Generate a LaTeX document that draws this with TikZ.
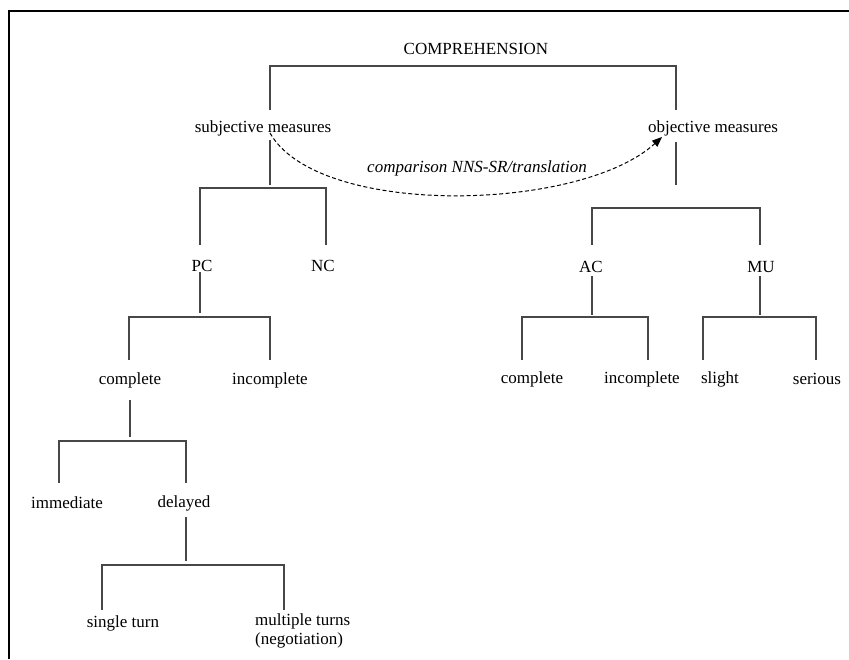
\documentclass[tikz,border=0pt]{standalone}
\usepackage{fontspec}
\setmainfont{Liberation Serif}
\usetikzlibrary{arrows.meta}
\begin{document}
\begin{tikzpicture}[x=1pt,y=-1pt,
  lbl/.style={inner sep=0pt,font=\fontsize{17}{19}\selectfont},
  tree/.style={draw=black!72,line width=1.2pt},
  frame/.style={draw=black,line width=2pt},
  cmp/.style={draw=black,line width=1pt,dash pattern=on 4pt off 2.5pt,-{Triangle[length=10pt,width=8pt]}}]
\useasboundingbox (0,0) rectangle (849,659);
\draw[frame] (9,659) -- (9,10.5) -- (849,10.5);
% labels
\node[lbl] (comp) at (476,49) {COMPREHENSION};
\node[lbl] (sub) at (263,128) {subjective measures};
\node[lbl] (obj) at (713,128) {objective measures};
\node[lbl] (pc) at (202,266) {PC};
\node[lbl] (nc) at (323,266) {NC};
\node[lbl] (ac) at (591,267) {AC};
\node[lbl] (mu) at (761,267) {MU};
\node[lbl] (comp1) at (130,380) {complete};
\node[lbl] (inc1) at (270,380) {incomplete};
\node[lbl] (comp2) at (532,379) {complete};
\node[lbl] (inc2) at (642,379) {incomplete};
\node[lbl] (sl) at (720,379) {slight};
\node[lbl] (ser) at (817,379) {serious};
\node[lbl] (imm) at (67,503) {immediate};
\node[lbl] (del) at (184,503) {delayed};
\node[lbl] (st) at (123,623) {single turn};
\node[lbl,align=left,anchor=west] (mt) at (255,631) {multiple turns\\(negotiation)};
% tree lines
\draw[tree] (270,110) -- (270,66) -- (676,66) -- (676,110);
\draw[tree] (270,140) -- (270,185);
\draw[tree] (200,245) -- (200,188) -- (326,188) -- (326,245);
\draw[tree] (676,142) -- (676,185);
\draw[tree] (592,245) -- (592,208) -- (760,208) -- (760,245);
\draw[tree] (200,272) -- (200,313);
\draw[tree] (129,360) -- (129,317) -- (270,317) -- (270,360);
\draw[tree] (592,276) -- (592,315);
\draw[tree] (522,360) -- (522,317) -- (648,317) -- (648,360);
\draw[tree] (760,276) -- (760,315);
\draw[tree] (703,360) -- (703,317) -- (816,317) -- (816,360);
\draw[tree] (130,400) -- (130,437);
\draw[tree] (59,483) -- (59,441) -- (186,441) -- (186,483);
\draw[tree] (186,517) -- (186,561);
\draw[tree] (102,610) -- (102,565) -- (284,565) -- (284,610);
% comparison arrow
\coordinate (cs) at (270,133);
\coordinate (ce) at (662,137);
\draw[cmp] (cs) .. controls (318,218) and (580,212) .. (ce);
\node[lbl,font=\fontsize{17}{19}\selectfont\itshape] (cl) at (477,168) {comparison NNS-SR/translation};
\end{tikzpicture}
\end{document}
